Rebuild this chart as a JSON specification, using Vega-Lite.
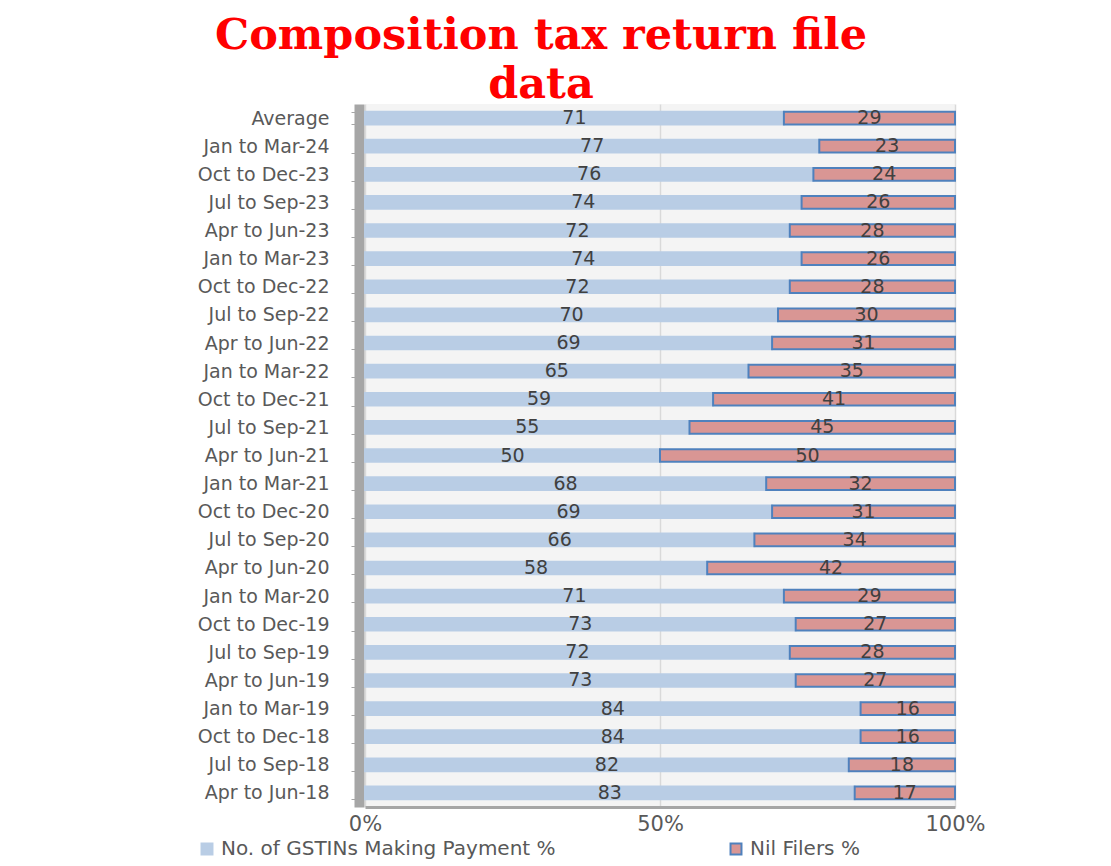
{
  "$schema": "https://vega.github.io/schema/vega-lite/v6.json",
  "width": 590,
  "height": 703,
  "autosize": {"type": "none"},
  "padding": {"left": 365, "top": 104, "right": 156, "bottom": 59},
  "background": "white",
  "title": {
    "text": ["Composition tax return file", "data"],
    "font": "DejaVu Serif",
    "fontWeight": "bold",
    "fontSize": 43,
    "lineHeight": 49,
    "color": "#ff0000",
    "anchor": "middle",
    "frame": "group",
    "dx": -119,
    "offset": -12
  },
  "data": {
    "values": [
      {"period": "Average", "series": "No. of GSTINs Making Payment %", "value": 71},
      {"period": "Average", "series": "Nil Filers %", "value": 29},
      {"period": "Jan to Mar-24", "series": "No. of GSTINs Making Payment %", "value": 77},
      {"period": "Jan to Mar-24", "series": "Nil Filers %", "value": 23},
      {"period": "Oct to Dec-23", "series": "No. of GSTINs Making Payment %", "value": 76},
      {"period": "Oct to Dec-23", "series": "Nil Filers %", "value": 24},
      {"period": "Jul to Sep-23", "series": "No. of GSTINs Making Payment %", "value": 74},
      {"period": "Jul to Sep-23", "series": "Nil Filers %", "value": 26},
      {"period": "Apr to Jun-23", "series": "No. of GSTINs Making Payment %", "value": 72},
      {"period": "Apr to Jun-23", "series": "Nil Filers %", "value": 28},
      {"period": "Jan to Mar-23", "series": "No. of GSTINs Making Payment %", "value": 74},
      {"period": "Jan to Mar-23", "series": "Nil Filers %", "value": 26},
      {"period": "Oct to Dec-22", "series": "No. of GSTINs Making Payment %", "value": 72},
      {"period": "Oct to Dec-22", "series": "Nil Filers %", "value": 28},
      {"period": "Jul to Sep-22", "series": "No. of GSTINs Making Payment %", "value": 70},
      {"period": "Jul to Sep-22", "series": "Nil Filers %", "value": 30},
      {"period": "Apr to Jun-22", "series": "No. of GSTINs Making Payment %", "value": 69},
      {"period": "Apr to Jun-22", "series": "Nil Filers %", "value": 31},
      {"period": "Jan to Mar-22", "series": "No. of GSTINs Making Payment %", "value": 65},
      {"period": "Jan to Mar-22", "series": "Nil Filers %", "value": 35},
      {"period": "Oct to Dec-21", "series": "No. of GSTINs Making Payment %", "value": 59},
      {"period": "Oct to Dec-21", "series": "Nil Filers %", "value": 41},
      {"period": "Jul to Sep-21", "series": "No. of GSTINs Making Payment %", "value": 55},
      {"period": "Jul to Sep-21", "series": "Nil Filers %", "value": 45},
      {"period": "Apr to Jun-21", "series": "No. of GSTINs Making Payment %", "value": 50},
      {"period": "Apr to Jun-21", "series": "Nil Filers %", "value": 50},
      {"period": "Jan to Mar-21", "series": "No. of GSTINs Making Payment %", "value": 68},
      {"period": "Jan to Mar-21", "series": "Nil Filers %", "value": 32},
      {"period": "Oct to Dec-20", "series": "No. of GSTINs Making Payment %", "value": 69},
      {"period": "Oct to Dec-20", "series": "Nil Filers %", "value": 31},
      {"period": "Jul to Sep-20", "series": "No. of GSTINs Making Payment %", "value": 66},
      {"period": "Jul to Sep-20", "series": "Nil Filers %", "value": 34},
      {"period": "Apr to Jun-20", "series": "No. of GSTINs Making Payment %", "value": 58},
      {"period": "Apr to Jun-20", "series": "Nil Filers %", "value": 42},
      {"period": "Jan to Mar-20", "series": "No. of GSTINs Making Payment %", "value": 71},
      {"period": "Jan to Mar-20", "series": "Nil Filers %", "value": 29},
      {"period": "Oct to Dec-19", "series": "No. of GSTINs Making Payment %", "value": 73},
      {"period": "Oct to Dec-19", "series": "Nil Filers %", "value": 27},
      {"period": "Jul to Sep-19", "series": "No. of GSTINs Making Payment %", "value": 72},
      {"period": "Jul to Sep-19", "series": "Nil Filers %", "value": 28},
      {"period": "Apr to Jun-19", "series": "No. of GSTINs Making Payment %", "value": 73},
      {"period": "Apr to Jun-19", "series": "Nil Filers %", "value": 27},
      {"period": "Jan to Mar-19", "series": "No. of GSTINs Making Payment %", "value": 84},
      {"period": "Jan to Mar-19", "series": "Nil Filers %", "value": 16},
      {"period": "Oct to Dec-18", "series": "No. of GSTINs Making Payment %", "value": 84},
      {"period": "Oct to Dec-18", "series": "Nil Filers %", "value": 16},
      {"period": "Jul to Sep-18", "series": "No. of GSTINs Making Payment %", "value": 82},
      {"period": "Jul to Sep-18", "series": "Nil Filers %", "value": 18},
      {"period": "Apr to Jun-18", "series": "No. of GSTINs Making Payment %", "value": 83},
      {"period": "Apr to Jun-18", "series": "Nil Filers %", "value": 17}
    ]
  },
  "encoding": {
    "y": {
      "field": "period",
      "type": "nominal",
      "sort": null,
      "title": null,
      "scale": {"paddingInner": 0.55, "paddingOuter": 0.275},
      "axis": {
        "labelFont": "DejaVu Sans",
        "labelFontSize": 19,
        "labelColor": "#595959",
        "labelPadding": 22,
        "labelLimit": 300,
        "offset": 6,
        "domainColor": "#a6a6a6",
        "domainWidth": 10,
        "tickColor": "#a6a6a6",
        "tickSize": 8,
        "tickBand": "extent",
        "grid": false
      }
    },
    "x": {
      "field": "value",
      "type": "quantitative",
      "stack": "zero",
      "title": null,
      "scale": {"domain": [0, 100]},
      "axis": {
        "values": [0, 50, 100],
        "labelExpr": "datum.value + '%'",
        "labelFont": "DejaVu Sans",
        "labelFontSize": 21,
        "labelColor": "#595959",
        "labelPadding": 6,
        "labelFlush": false,
        "ticks": false,
        "domainColor": "#a6a6a6",
        "domainWidth": 3,
        "grid": true,
        "gridColor": "#d9d9d9",
        "gridWidth": 1.5
      }
    },
    "order": {"field": "series", "sort": "descending"}
  },
  "layer": [
    {
      "mark": {"type": "bar", "strokeWidth": 2},
      "encoding": {
        "color": {
          "field": "series",
          "type": "nominal",
          "title": null,
          "scale": {
            "domain": ["No. of GSTINs Making Payment %", "Nil Filers %"],
            "range": ["#b9cde5", "#d99694"]
          },
          "legend": {
            "orient": "none",
            "legendX": -168,
            "legendY": 735,
            "direction": "horizontal",
            "symbolType": "square",
            "symbolSize": 120,
            "symbolStrokeWidth": 2,
            "labelFont": "DejaVu Sans",
            "labelFontSize": 20,
            "labelColor": "#595959",
            "columnPadding": 170,
            "labelLimit": 500
          }
        },
        "stroke": {
          "field": "series",
          "type": "nominal",
          "title": null,
          "scale": {
            "domain": ["No. of GSTINs Making Payment %", "Nil Filers %"],
            "range": ["#b9cde5", "#4f81bd"]
          }
        }
      }
    },
    {
      "mark": {
        "type": "text",
        "font": "DejaVu Sans",
        "fontSize": 19,
        "color": "#404040",
        "baseline": "middle",
        "align": "center"
      },
      "encoding": {
        "x": {"field": "value", "type": "quantitative", "stack": "zero", "bandPosition": 0.5},
        "text": {"field": "value", "type": "quantitative"}
      }
    }
  ],
  "config": {
    "view": {"stroke": null, "fill": "#f4f4f4"}
  }
}
